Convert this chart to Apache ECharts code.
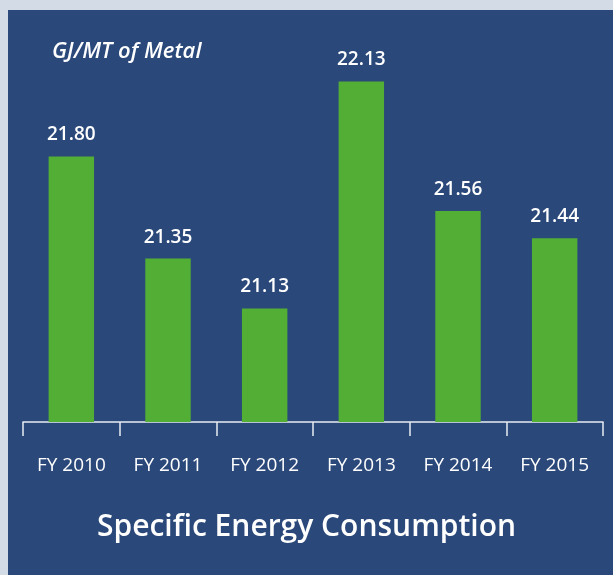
<!DOCTYPE html>
<html>
<head>
<meta charset="utf-8">
<script src="https://cdn.jsdelivr.net/npm/echarts@6/dist/echarts.min.js"></script>
<style>
html,body{margin:0;padding:0;background:#d3dce6;}
#wrap{position:absolute;left:8px;top:10px;width:605px;height:565px;background:#2a4879;}
#c{position:absolute;left:0;top:0;width:613px;height:575px;}
</style>
</head>
<body>
<div id="wrap"></div>
<div id="c"></div>
<script>
const categories = ['FY 2010','FY 2011','FY 2012','FY 2013','FY 2014','FY 2015'];
const values = [21.80, 21.35, 21.13, 22.13, 21.56, 21.44];
const unitLabel = 'GJ/MT of Metal';
const chartTitle = 'Specific Energy Consumption';

const chart = echarts.init(document.getElementById('c'), null, {renderer:'canvas'});
const font = '"Open Sans", "Noto Sans", sans-serif';
chart.setOption({
  backgroundColor: 'transparent',
  animation: false,
  title: [
    {text: unitLabel, left: 47, top: 36, textStyle:{color:'#ffffff', fontSize:22, fontStyle:'italic', fontWeight:600, fontFamily:font}},
    {text: chartTitle, left: 'center', top: 507, textStyle:{color:'#ffffff', fontSize:30, fontWeight:600, fontFamily:font}}
  ],
  grid: {left: 23, right: 10, top: 43, bottom: 153, containLabel:false},
  xAxis: {
    type:'category', data: categories,
    axisLine:{show:true, lineStyle:{color:'#e8ecf2', width:1.5}},
    axisTick:{show:true, length:14, lineStyle:{color:'#e8ecf2', width:1.5}},
    axisLabel:{color:'#ffffff', fontSize:19, fontWeight:500, margin:34, fontFamily:font}
  },
  yAxis: {type:'value', min:20.63, max:22.3, show:false, splitLine:{show:false}},
  series: [{
    type:'bar', data: values, barWidth:'47%',
    itemStyle:{color:'#52ae34'},
    label:{show:true, position:'top', distance:12, color:'#ffffff', fontSize:19, fontWeight:600, fontFamily:font,
      formatter: p => p.value.toFixed(2)}
  }]
});
</script>
</body>
</html>
